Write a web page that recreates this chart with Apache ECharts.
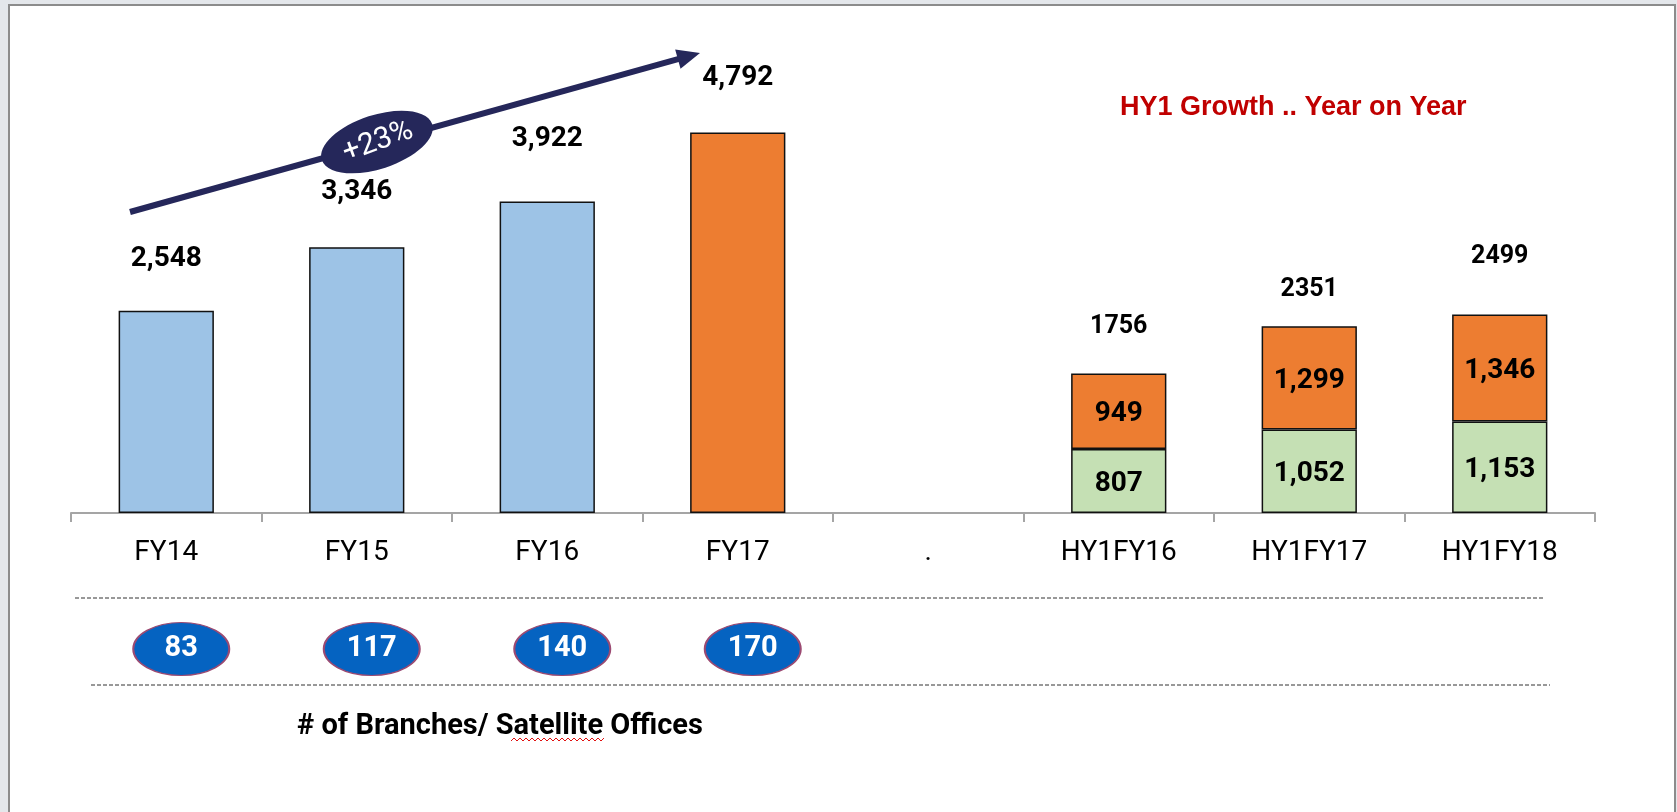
<!DOCTYPE html>
<html>
<head>
<meta charset="utf-8">
<script src="https://cdn.jsdelivr.net/npm/echarts@6/dist/echarts.min.js"></script>
<style>
html, body { margin: 0; padding: 0; background: #e4e7eb; }
#frame { position: absolute; left: 8px; top: 4px; width: 1664px; height: 808px; background: #fff;
         border: 2px solid #8c8c8c; border-bottom: none; }
#chart { position: absolute; left: 0; top: 0; width: 1677px; height: 812px; }
</style>
</head>
<body>
<div id="frame"></div>
<div id="chart"></div>
<script>
// categories of the x axis ('.' is the spacer between the two groups)
var categories = ['FY14', 'FY15', 'FY16', 'FY17', '.', 'HY1FY16', 'HY1FY17', 'HY1FY18'];
// full year values
var fyValues = [2548, 3346, 3922, 4792];
// half year values (green = base, orange = growth)
var hyBase = [807, 1052, 1153];
var hyGrowth = [949, 1299, 1346];
var hyTotal = [1756, 2351, 2499];
// # of branches / satellite offices
var branches = [83, 117, 140, 170];

var NUM_FONT = "Roboto, 'Liberation Sans', sans-serif";
var BLUE = '#9dc3e6', ORANGE = '#ed7d31', GREEN = '#c5e0b4', NAVY = '#25275a';

// label lift above each bar (the labels were dragged by hand in the original)
var fyLift = [38, 41, 49, 41];
var hyLift = [34, 24, 45];

var gap = ['-', '-', '-', '-'];
var fyData = fyValues.map(function (v, i) {
    return { value: v, label: { distance: fyLift[i] } };
}).concat(gap);
var hyBaseData = gap.concat(['-'], hyBase);
var hyGrowthData = gap.concat(['-'], hyGrowth);
var hyTotalData = gap.concat(['-'], hyTotal.map(function (v, i) {
    return { value: v, label: { distance: hyLift[i] } };
}));
var branchData = branches.map(function (c, i) {
    return [categories[i], 0.5, c];
});

// arrow geometry
var aStart = [130, 212], aTip = [700, 53];
var adx = aTip[0] - aStart[0], ady = aTip[1] - aStart[1];
var alen = Math.sqrt(adx * adx + ady * ady);
var ux = adx / alen, uy = ady / alen;
var headLen = 23, headHalf = 10;
var baseX = aTip[0] - ux * headLen, baseY = aTip[1] - uy * headLen;

// spell-check squiggle under "Satellite"
var squiggle = [];
for (var sx = 511, k = 0; sx <= 606; sx += 3, k++) {
    squiggle.push([sx, k % 2 ? 738 : 741]);
}

var barLabel = {
    show: true,
    color: '#000',
    fontFamily: NUM_FONT,
    fontWeight: 'bold',
    fontSize: 28,
    formatter: function (p) { return echarts.format.addCommas(p.value); }
};

var option = {
    animation: false,
    grid: [
        { left: 71, right: 82, top: 116, bottom: 299 },
        { left: 71, right: 82, top: 622, height: 54 }
    ],
    xAxis: [{
        type: 'category',
        gridIndex: 0,
        data: categories,
        axisLine: { lineStyle: { color: '#a5a5a5', width: 2 } },
        axisTick: { show: true, length: 9, lineStyle: { color: '#a5a5a5', width: 2 } },
        axisLabel: { color: '#000', fontFamily: NUM_FONT, fontSize: 28, margin: 26, interval: 0 }
    }, {
        type: 'category',
        gridIndex: 1,
        data: categories,
        show: false
    }],
    yAxis: [{
        type: 'value',
        gridIndex: 0,
        min: 0,
        max: 5000,
        show: false,
        splitLine: { show: false }
    }, {
        type: 'value',
        gridIndex: 1,
        min: 0,
        max: 1,
        show: false,
        splitLine: { show: false }
    }],
    series: [{
        name: 'FY',
        type: 'bar',
        stack: 'all',
        barWidth: '50%',
        data: fyData,
        itemStyle: {
            color: function (p) { return p.dataIndex === 3 ? ORANGE : BLUE; },
            borderColor: '#111',
            borderWidth: 1.5
        },
        label: Object.assign({ position: 'top' }, barLabel)
    }, {
        name: 'HY base',
        type: 'bar',
        stack: 'all',
        barWidth: '50%',
        data: hyBaseData,
        itemStyle: { color: GREEN, borderColor: '#111', borderWidth: 1.5 },
        label: Object.assign({ position: 'inside', offset: [0, 3] }, barLabel)
    }, {
        name: 'HY growth',
        type: 'bar',
        stack: 'all',
        barWidth: '50%',
        data: hyGrowthData,
        itemStyle: { color: ORANGE, borderColor: '#111', borderWidth: 1.5 },
        label: Object.assign({ position: 'inside', offset: [0, 3] }, barLabel)
    }, {
        name: 'HY total',
        type: 'scatter',
        data: hyTotalData,
        symbolSize: 1,
        itemStyle: { color: 'rgba(0,0,0,0)', opacity: 1 },
        label: {
            show: true,
            position: 'top',
            color: '#000',
            fontFamily: NUM_FONT,
            fontWeight: 'bold',
            fontSize: 25
        },
        z: 5
    }, {
        name: 'Branches',
        type: 'scatter',
        xAxisIndex: 1,
        yAxisIndex: 1,
        data: branchData,
        symbol: 'circle',
        symbolSize: [96, 53],
        symbolOffset: [15, 0],
        itemStyle: { color: '#0563c1', borderColor: '#9b4a72', borderWidth: 1.5, opacity: 1 },
        label: {
            show: true,
            position: 'inside',
            color: '#fff',
            fontFamily: NUM_FONT,
            fontWeight: 'bold',
            fontSize: 29,
            formatter: function (p) { return p.value[2]; }
        }
    }],
    graphic: [
        {
            type: 'line',
            shape: { x1: aStart[0], y1: aStart[1], x2: baseX + ux * 2, y2: baseY + uy * 2 },
            style: { stroke: NAVY, lineWidth: 6 }
        },
        {
            type: 'polygon',
            shape: { points: [aTip, [baseX - uy * headHalf, baseY + ux * headHalf], [baseX + uy * headHalf, baseY - ux * headHalf]] },
            style: { fill: NAVY }
        },
        {
            type: 'ellipse',
            x: 377, y: 142,
            rotation: 18 * Math.PI / 180,
            shape: { cx: 0, cy: 0, rx: 58, ry: 27 },
            style: { fill: NAVY }
        },
        {
            type: 'text',
            x: 378, y: 142,
            rotation: 20 * Math.PI / 180,
            style: {
                text: '+23%', fill: '#fff', font: '30px ' + NUM_FONT,
                align: 'center', verticalAlign: 'middle'
            }
        },
        {
            type: 'text',
            x: 1120, y: 108,
            style: {
                text: 'HY1 Growth .. Year on Year', fill: '#c00000',
                font: 'bold 27px "Liberation Sans", Arial, sans-serif',
                align: 'left', verticalAlign: 'middle'
            }
        },
        {
            type: 'line',
            shape: { x1: 75, y1: 598, x2: 1544, y2: 598 },
            style: { stroke: '#333', lineWidth: 1, lineDash: [4, 2] }
        },
        {
            type: 'line',
            shape: { x1: 91, y1: 685, x2: 1550, y2: 685 },
            style: { stroke: '#333', lineWidth: 1, lineDash: [4, 2] }
        },
        {
            type: 'text',
            x: 500, y: 727,
            style: {
                text: '# of Branches/ Satellite Offices', fill: '#000',
                font: 'bold 29px ' + NUM_FONT,
                align: 'center', verticalAlign: 'middle'
            }
        },
        {
            type: 'polyline',
            shape: { points: squiggle },
            style: { stroke: '#e01010', lineWidth: 1, fill: null }
        }
    ]
};

var myChart = echarts.init(document.getElementById('chart'));
myChart.setOption(option);
</script>
</body>
</html>
